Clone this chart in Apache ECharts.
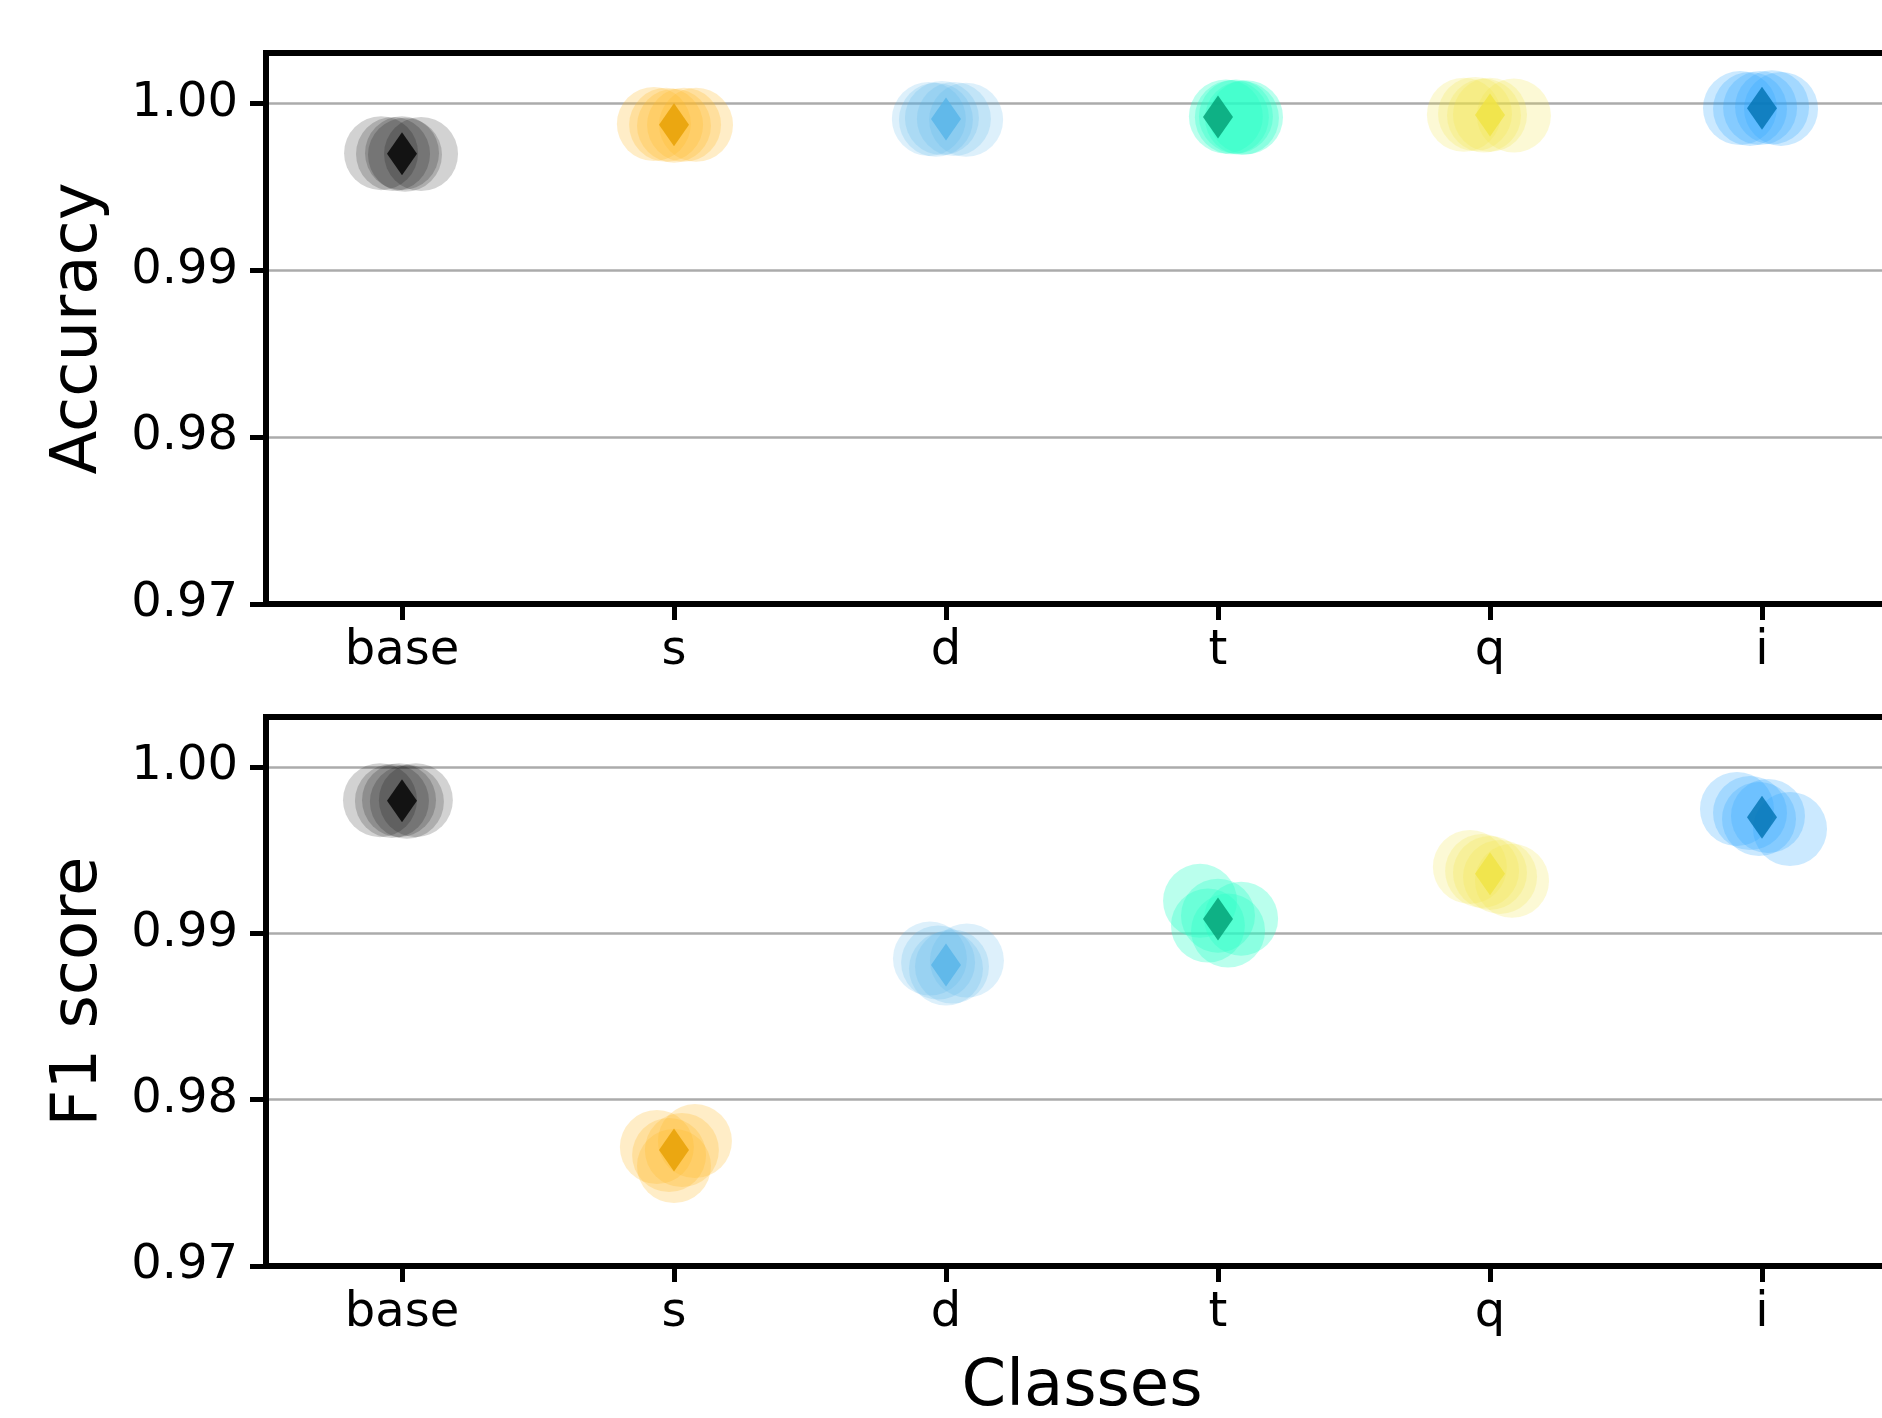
<!DOCTYPE html>
<html>
<head>
<meta charset="utf-8">
<script src="https://cdn.jsdelivr.net/npm/echarts@6/dist/echarts.min.js"></script>
<style>
  html, body { margin: 0; padding: 0; background: #fff; overflow: hidden; }
  #chart { width: 1882px; height: 1418px; }
</style>
</head>
<body>
<div id="chart"></div>
<script>
// Class names along the x axis
const classes = ['base', 's', 'd', 't', 'q', 'i'];

// Mean value per class (diamond markers)
const accMean = [0.99696, 0.99870, 0.99904, 0.99916, 0.99929, 0.99969];
const f1Mean  = [0.99797, 0.97697, 0.98810, 0.99086, 0.99358, 0.99698];

// Per-fold results: horizontal jitter (in category units) and value
const accJitter = [
  [-0.077, -0.033, 0.000, 0.011, 0.070],
  [-0.074, -0.029, 0.000, 0.037, 0.081],
  [-0.063, -0.037, -0.015, 0.029, 0.074],
  [0.029, 0.051, 0.066, 0.088, 0.103],
  [-0.096, -0.055, -0.022, 0.000, 0.088],
  [-0.081, -0.044, -0.007, 0.037, 0.070]
];
const accFolds = [
  [0.99700, 0.99695, 0.99700, 0.99690, 0.99695],
  [0.99875, 0.99870, 0.99865, 0.99870, 0.99870],
  [0.99905, 0.99900, 0.99910, 0.99905, 0.99900],
  [0.99920, 0.99915, 0.99920, 0.99910, 0.99915],
  [0.99930, 0.99935, 0.99925, 0.99930, 0.99925],
  [0.99970, 0.99965, 0.99970, 0.99975, 0.99965]
];
const f1Jitter = [
  [-0.081, -0.037, -0.011, 0.018, 0.051],
  [-0.063, -0.018, 0.000, 0.029, 0.077],
  [-0.059, -0.029, 0.000, 0.022, 0.077],
  [-0.066, -0.037, 0.000, 0.037, 0.085],
  [-0.074, -0.029, 0.000, 0.037, 0.081],
  [-0.092, -0.044, -0.011, 0.022, 0.103]
];
const f1Folds = [
  [0.99800, 0.99795, 0.99800, 0.99790, 0.99800],
  [0.97715, 0.97667, 0.97601, 0.97697, 0.97751],
  [0.98848, 0.98824, 0.98788, 0.98800, 0.98836],
  [0.99195, 0.99046, 0.99106, 0.99016, 0.99088],
  [0.99399, 0.99375, 0.99363, 0.99339, 0.99315],
  [0.99747, 0.99723, 0.99687, 0.99705, 0.99627]
];

// Y axis tick values
const yTicks = [0.97, 0.98, 0.99, 1.00];

// Colours: solid for the mean marker, translucent for the fold circles
const meanColors = ['#000000', '#E69F00', '#56B4E9', '#009E73', '#F0E442', '#0072B2'];
const foldColors = [
  'rgba(0,0,0,0.22)',
  'rgba(255,185,40,0.33)',
  'rgba(86,180,233,0.25)',
  'rgba(40,255,200,0.40)',
  'rgba(240,228,66,0.28)',
  'rgba(40,165,255,0.30)'
];

const FONT = 'DejaVu Sans';
// the plot area runs a little past the right edge of the page
const panels = [
  { name: 'Accuracy', mean: accMean, jitter: accJitter, folds: accFolds, top: 53, height: 551, xName: '' },
  { name: 'F1 score', mean: f1Mean, jitter: f1Jitter, folds: f1Folds, top: 717, height: 549, xName: 'Classes' }
];

const grid = [], xAxis = [], yAxis = [], series = [];
panels.forEach((p, g) => {
  grid.push({
    left: 266, width: 1632, top: p.top, height: p.height,
    outerBoundsMode: 'none', containLabel: false,
    show: true, borderColor: '#000', borderWidth: 6, backgroundColor: 'transparent', z: 5
  });
  // visible category axis carrying the class labels
  xAxis.push({
    type: 'category', gridIndex: g, data: classes, boundaryGap: true,
    name: p.xName, nameLocation: 'middle', nameGap: 90,
    nameTextStyle: { fontFamily: FONT, fontSize: 64, color: '#000' },
    axisLine: { show: false, onZero: false },
    axisTick: { show: true, alignWithLabel: true, length: 16, lineStyle: { color: '#000', width: 5 } },
    axisLabel: { fontFamily: FONT, fontSize: 48, color: '#000', margin: 24 },
    splitLine: { show: false }
  });
  // hidden numeric axis used to place jittered fold circles
  xAxis.push({
    type: 'value', gridIndex: g, min: -0.5, max: classes.length - 0.5, show: false
  });
  yAxis.push({
    type: 'value', gridIndex: g, position: 'left', min: yTicks[0], max: 1.003, interval: 0.01,
    name: p.name, nameLocation: 'middle', nameGap: 155,
    nameTextStyle: { fontFamily: FONT, fontSize: 64, color: '#000' },
    axisLine: { show: true, onZero: false, lineStyle: { color: '#000', width: 6 } },
    axisTick: { show: true, length: 16, lineStyle: { color: '#000', width: 5 } },
    axisLabel: {
      fontFamily: FONT, fontSize: 48, color: '#000', margin: 28,
      showMaxLabel: false, formatter: v => v.toFixed(2)
    },
    splitLine: { show: true, lineStyle: { color: '#ababab', width: 2.5 } }
  });

  classes.forEach((c, i) => {
    series.push({
      type: 'scatter', xAxisIndex: g * 2 + 1, yAxisIndex: g,
      symbol: 'circle', symbolSize: 74, z: 2,
      itemStyle: { color: foldColors[i] },
      silent: true,
      data: p.jitter[i].map((o, k) => [i + o, p.folds[i][k]])
    });
  });
  series.push({
    type: 'scatter', xAxisIndex: g * 2, yAxisIndex: g,
    symbol: 'diamond', symbolSize: [30, 43], z: 3,
    silent: true,
    data: classes.map((c, i) => ({ value: [c, p.mean[i]], itemStyle: { color: meanColors[i] } }))
  });
});

const chart = echarts.init(document.getElementById('chart'), null, { renderer: 'canvas' });
chart.setOption({
  animation: false,
  backgroundColor: '#fff',
  grid, xAxis, yAxis, series
});
</script>
</body>
</html>
